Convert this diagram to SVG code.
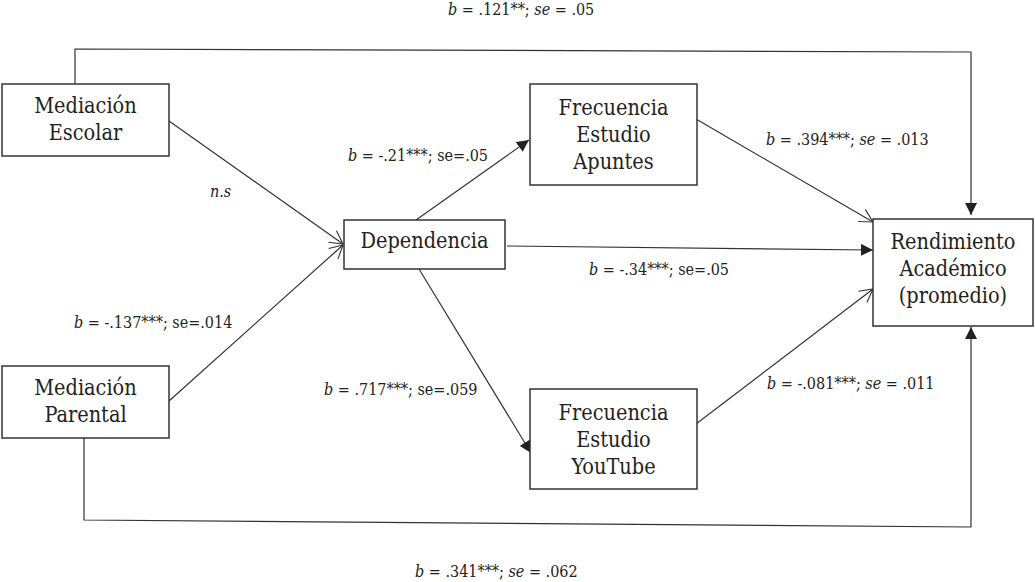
<svg xmlns="http://www.w3.org/2000/svg" width="1035" height="582" viewBox="0 0 1035 582">
<style>
text{font-family:'DejaVu Serif Condensed','DejaVu Serif',serif;fill:#222}
.box{fill:#fff;stroke:#333;stroke-width:1.5}
.nt{font-size:21.5px;text-anchor:middle}
.lb{font-size:16px}
.it{font-style:italic}
.ln{fill:none;stroke:#333;stroke-width:1.2}
.fa{marker-end:url(#fill)}
.oa{marker-end:url(#open)}
</style>
<defs>
<marker id="fill" viewBox="0 0 12 12" refX="12" refY="6" markerWidth="12" markerHeight="12" markerUnits="userSpaceOnUse" orient="auto">
<path d="M0,0 L12,6 L0,12 z" fill="#222"/>
</marker>
<marker id="open" viewBox="0 0 16 16" refX="14" refY="8" markerWidth="16" markerHeight="16" markerUnits="userSpaceOnUse" orient="auto">
<path d="M1,1 L14,8 L1,15" fill="none" stroke="#333" stroke-width="1.1"/>
</marker>
</defs>
<rect width="1035" height="582" fill="#fff"/>
<g id="connectors">
<path class="ln fa" d="M75,84 V49 L971,52 V215"/>
<path class="ln fa" d="M84,438 V520 L971,527 V327"/>
<path class="ln oa" d="M169,121 L343,244"/>
<path class="ln oa" d="M169,401 L343,245"/>
<path class="ln fa" d="M416,220 L529,140"/>
<path class="ln fa" d="M507,246 L873,250"/>
<path class="ln fa" d="M419,269 L531,453"/>
<path class="ln oa" d="M696,119 L873,222"/>
<path class="ln oa" d="M696,424 L873,289"/>
</g>
<g id="labels">
<text class="lb" x="448" y="15"><tspan class="it">b</tspan> = .121**; <tspan class="it">se</tspan> = .05</text>
<text class="lb it" x="210" y="197">n.s</text>
<text class="lb" x="348" y="161"><tspan class="it">b</tspan> = -.21***; se=.05</text>
<text class="lb" x="766" y="145"><tspan class="it">b</tspan> = .394***; <tspan class="it">se</tspan> = .013</text>
<text class="lb" x="589" y="275"><tspan class="it">b</tspan> = -.34***; se=.05</text>
<text class="lb" x="74" y="328"><tspan class="it">b</tspan> = -.137***; se=.014</text>
<text class="lb" x="324" y="395"><tspan class="it">b</tspan> = .717***; se=.059</text>
<text class="lb" x="767" y="389"><tspan class="it">b</tspan> = -.081***; <tspan class="it">se</tspan> = .011</text>
<text class="lb" x="415" y="577"><tspan class="it">b</tspan> = .341***; <tspan class="it">se</tspan> = .062</text>
</g>
<g id="escolar">
<rect class="box" x="2" y="84" width="167" height="72"/>
<text class="nt" x="85.5" y="113">Mediación</text>
<text class="nt" x="85.5" y="140">Escolar</text>
</g>
<g id="parental">
<rect class="box" x="2" y="366" width="167" height="72"/>
<text class="nt" x="85.5" y="395">Mediación</text>
<text class="nt" x="85.5" y="422">Parental</text>
</g>
<g id="dependencia">
<rect class="box" x="344" y="220" width="161" height="49"/>
<text class="nt" x="424.5" y="248">Dependencia</text>
</g>
<g id="apuntes">
<rect class="box" x="530" y="84" width="167" height="101"/>
<text class="nt" x="613.5" y="115">Frecuencia</text>
<text class="nt" x="613.5" y="142">Estudio</text>
<text class="nt" x="613.5" y="169">Apuntes</text>
</g>
<g id="youtube">
<rect class="box" x="530" y="389" width="167" height="100"/>
<text class="nt" x="613.5" y="420">Frecuencia</text>
<text class="nt" x="613.5" y="447">Estudio</text>
<text class="nt" x="613.5" y="474">YouTube</text>
</g>
<g id="rendimiento">
<rect class="box" x="873" y="219" width="160" height="107"/>
<text class="nt" x="953" y="249">Rendimiento</text>
<text class="nt" x="953" y="276">Académico</text>
<text class="nt" x="953" y="303">(promedio)</text>
</g>
</svg>
